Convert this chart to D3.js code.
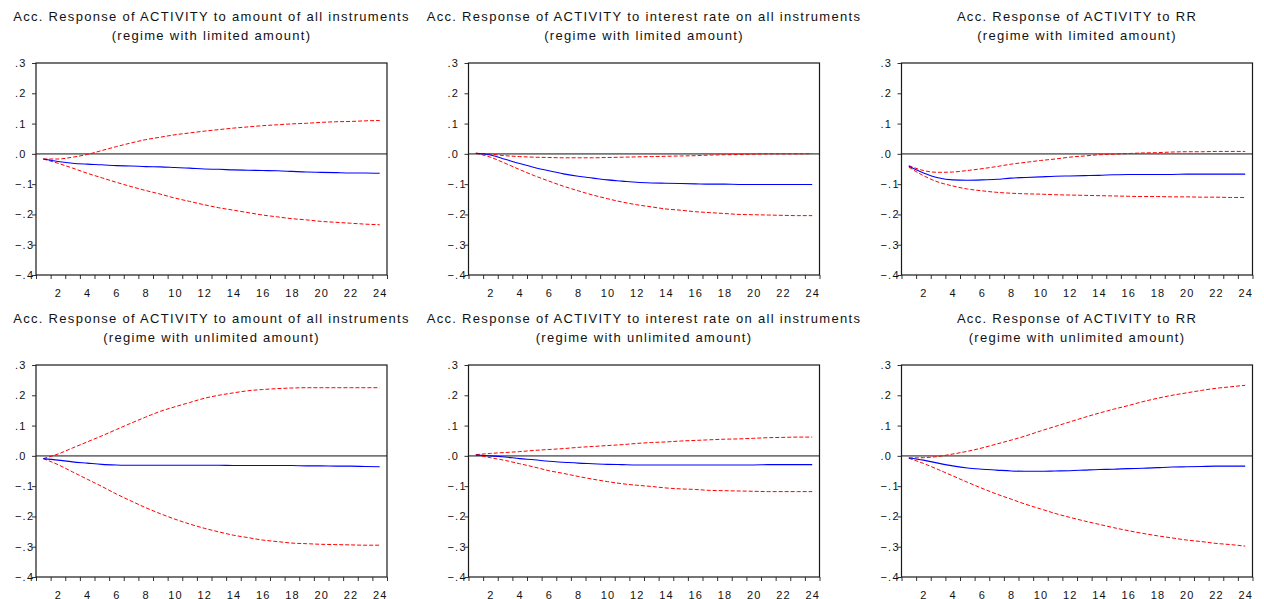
<!DOCTYPE html>
<html>
<head>
<meta charset="utf-8">
<script src="https://cdn.jsdelivr.net/npm/d3@7"></script>
<style>
  html, body { margin: 0; padding: 0; background: #fff; }
  svg { display: block; }
  text { font-family: "Liberation Sans", Arial, sans-serif; fill: #111; }
</style>
</head>
<body>
<svg id="chart" width="1264" height="599"></svg>
<script>
// Forecast horizon (periods) and axis tick values
const periods = d3.range(1, 25);
const xTickLabels = [2, 4, 6, 8, 10, 12, 14, 16, 18, 20, 22, 24];
const yTickValues = [0.3, 0.2, 0.1, 0.0, -0.1, -0.2, -0.3, -0.4];

// Titles
const shockNames = [
  "Acc. Response of ACTIVITY to amount of all instruments",
  "Acc. Response of ACTIVITY to interest rate on all instruments",
  "Acc. Response of ACTIVITY to RR"
];
const regimeNames = ["(regime with limited amount)", "(regime with unlimited amount)"];

// Regime with limited amount: response to amount of all instruments
const limAmountUpper = [-0.017, -0.017, -0.011, -0.002, 0.011, 0.024, 0.036, 0.047, 0.055, 0.063, 0.069, 0.075,
                        0.080, 0.085, 0.089, 0.093, 0.096, 0.099, 0.101, 0.104, 0.106, 0.107, 0.109, 0.110];
const limAmountMean  = [-0.017, -0.025, -0.031, -0.034, -0.036, -0.039, -0.040, -0.042, -0.043, -0.045, -0.047, -0.050,
                        -0.051, -0.053, -0.054, -0.055, -0.056, -0.058, -0.060, -0.061, -0.062, -0.063, -0.063, -0.064];
const limAmountLower = [-0.017, -0.031, -0.047, -0.064, -0.079, -0.094, -0.108, -0.121, -0.133, -0.146, -0.157, -0.168,
                        -0.178, -0.186, -0.194, -0.202, -0.208, -0.214, -0.218, -0.223, -0.226, -0.229, -0.232, -0.234];

// Regime with limited amount: response to interest rate on all instruments
const limRateUpper = [0.002, -0.001, -0.006, -0.009, -0.011, -0.012, -0.013, -0.013, -0.013, -0.012, -0.011, -0.010,
                      -0.009, -0.008, -0.007, -0.006, -0.004, -0.003, -0.002, -0.001, 0.000, 0.000, 0.000, 0.001];
const limRateMean  = [0.002, -0.004, -0.018, -0.032, -0.045, -0.056, -0.066, -0.074, -0.080, -0.086, -0.090, -0.094,
                      -0.096, -0.097, -0.098, -0.099, -0.100, -0.100, -0.101, -0.101, -0.101, -0.101, -0.101, -0.101];
const limRateLower = [0.002, -0.011, -0.031, -0.052, -0.072, -0.090, -0.107, -0.122, -0.136, -0.148, -0.159, -0.168,
                      -0.175, -0.182, -0.186, -0.191, -0.194, -0.197, -0.200, -0.201, -0.202, -0.203, -0.204, -0.204];

// Regime with limited amount: response to RR
const limRRUpper = [-0.039, -0.055, -0.061, -0.060, -0.055, -0.049, -0.042, -0.034, -0.028, -0.022, -0.017, -0.011,
                    -0.007, -0.003, -0.001, 0.001, 0.003, 0.004, 0.006, 0.007, 0.007, 0.008, 0.008, 0.008];
const limRRMean  = [-0.041, -0.063, -0.079, -0.086, -0.087, -0.086, -0.084, -0.080, -0.078, -0.076, -0.074, -0.073,
                    -0.072, -0.071, -0.069, -0.068, -0.068, -0.068, -0.068, -0.067, -0.067, -0.067, -0.067, -0.067];
const limRRLower = [-0.044, -0.072, -0.093, -0.106, -0.116, -0.122, -0.127, -0.130, -0.132, -0.133, -0.135, -0.136,
                    -0.137, -0.138, -0.139, -0.140, -0.141, -0.141, -0.142, -0.142, -0.143, -0.143, -0.144, -0.144];

// Regime with unlimited amount: response to amount of all instruments
const unlAmountUpper = [-0.009, 0.006, 0.026, 0.046, 0.066, 0.087, 0.108, 0.128, 0.147, 0.162, 0.176, 0.190,
                        0.200, 0.208, 0.215, 0.219, 0.222, 0.224, 0.225, 0.225, 0.225, 0.225, 0.225, 0.225];
const unlAmountMean  = [-0.009, -0.014, -0.020, -0.024, -0.028, -0.030, -0.031, -0.031, -0.031, -0.031, -0.031, -0.031,
                        -0.031, -0.032, -0.032, -0.032, -0.032, -0.032, -0.033, -0.033, -0.034, -0.034, -0.035, -0.036];
const unlAmountLower = [-0.009, -0.029, -0.053, -0.077, -0.101, -0.126, -0.149, -0.171, -0.191, -0.209, -0.225, -0.239,
                        -0.251, -0.262, -0.270, -0.278, -0.283, -0.288, -0.290, -0.292, -0.293, -0.294, -0.295, -0.295];

// Regime with unlimited amount: response to interest rate on all instruments
const unlRateUpper = [0.004, 0.008, 0.011, 0.014, 0.018, 0.021, 0.024, 0.028, 0.031, 0.034, 0.037, 0.041,
                      0.044, 0.046, 0.049, 0.051, 0.053, 0.055, 0.056, 0.058, 0.060, 0.061, 0.062, 0.062];
const unlRateMean  = [0.003, 0.000, -0.004, -0.009, -0.013, -0.018, -0.021, -0.024, -0.026, -0.028, -0.029, -0.030,
                      -0.030, -0.030, -0.030, -0.030, -0.030, -0.030, -0.030, -0.030, -0.029, -0.029, -0.029, -0.029];
const unlRateLower = [0.003, -0.006, -0.015, -0.026, -0.037, -0.049, -0.058, -0.068, -0.077, -0.085, -0.092, -0.097,
                      -0.101, -0.106, -0.109, -0.111, -0.114, -0.115, -0.116, -0.117, -0.118, -0.118, -0.118, -0.118];

// Regime with unlimited amount: response to RR
const unlRRUpper = [-0.007, -0.006, -0.002, 0.006, 0.015, 0.026, 0.039, 0.052, 0.066, 0.082, 0.097, 0.112,
                    0.127, 0.141, 0.154, 0.166, 0.179, 0.190, 0.200, 0.208, 0.216, 0.223, 0.228, 0.233];
const unlRRMean  = [-0.007, -0.014, -0.024, -0.033, -0.040, -0.044, -0.047, -0.050, -0.051, -0.051, -0.050, -0.049,
                    -0.047, -0.045, -0.044, -0.042, -0.041, -0.039, -0.037, -0.036, -0.035, -0.034, -0.034, -0.034];
const unlRRLower = [-0.008, -0.025, -0.045, -0.066, -0.087, -0.107, -0.126, -0.143, -0.160, -0.175, -0.190, -0.203,
                    -0.215, -0.226, -0.237, -0.247, -0.256, -0.264, -0.271, -0.278, -0.283, -0.289, -0.293, -0.298];

// Panel grid (row = regime, col = shock)
const panels = [
  { row: 0, col: 0, upper: limAmountUpper, mean: limAmountMean, lower: limAmountLower },
  { row: 0, col: 1, upper: limRateUpper,   mean: limRateMean,   lower: limRateLower },
  { row: 0, col: 2, upper: limRRUpper,     mean: limRRMean,     lower: limRRLower },
  { row: 1, col: 0, upper: unlAmountUpper, mean: unlAmountMean, lower: unlAmountLower },
  { row: 1, col: 1, upper: unlRateUpper,   mean: unlRateMean,   lower: unlRateLower },
  { row: 1, col: 2, upper: unlRRUpper,     mean: unlRRMean,     lower: unlRRLower }
];

// Layout
const colLeft = [36, 468.5, 901.5];
const rowTop = [63, 365];
const plotW = 351;
const plotH = 212;

const svg = d3.select("#chart");

panels.forEach(p => {
  const left = colLeft[p.col];
  const top = rowTop[p.row];
  const g = svg.append("g").attr("transform", `translate(${left},${top})`);

  const x = d3.scaleLinear().domain([0.5, 24.5]).range([0, plotW]);
  const y = d3.scaleLinear().domain([-0.4, 0.3]).range([plotH, 0]);

  // Title (two lines)
  const cx = plotW / 2;
  g.append("text")
    .attr("x", cx).attr("y", 21 - 63)
    .attr("text-anchor", "middle")
    .style("font-size", "13px").style("letter-spacing", "1.3px")
    .text(shockNames[p.col]);
  g.append("text")
    .attr("x", cx).attr("y", 40 - 63)
    .attr("text-anchor", "middle")
    .style("font-size", "13px").style("letter-spacing", "1.3px")
    .text(regimeNames[p.row]);

  // Zero reference line
  g.append("line")
    .attr("x1", 0).attr("x2", plotW)
    .attr("y1", y(0)).attr("y2", y(0))
    .attr("stroke", "#767676").attr("stroke-width", 1.6);

  // Series
  const line = d3.line()
    .x((d, i) => x(periods[i]))
    .y(d => y(d))
    .curve(d3.curveMonotoneX);

  [p.upper, p.lower].forEach(s => {
    g.append("path").datum(s)
      .attr("d", line)
      .attr("fill", "none")
      .attr("stroke", "#ff0000")
      .attr("stroke-width", 1)
      .attr("stroke-dasharray", "4,2");
  });
  g.append("path").datum(p.mean)
    .attr("d", line)
    .attr("fill", "none")
    .attr("stroke", "#0000ff")
    .attr("stroke-width", 1.1);

  // Y axis: ticks and left-aligned labels
  const yAxis = d3.axisLeft(y).tickValues(yTickValues).tickSize(4).tickFormat("");
  const ya = g.append("g").call(yAxis);
  ya.select(".domain").remove();
  ya.selectAll(".tick line").attr("stroke", "#333");

  g.selectAll("text.ylab").data(yTickValues).enter().append("text")
    .attr("class", "ylab")
    .attr("x", -21)
    .attr("y", d => y(d))
    .attr("dy", "0.36em")
    .style("font-size", "11px").style("letter-spacing", "1.2px")
    .text(d => d3.format(".1f")(d).replace("0.", "."));

  // X axis: ticks at period boundaries, labels on even periods
  const xAxis = d3.axisBottom(x).tickValues(d3.range(0.5, 25, 1)).tickSize(4).tickFormat("");
  const xa = g.append("g").attr("transform", `translate(0,${plotH})`).call(xAxis);
  xa.select(".domain").remove();
  xa.selectAll(".tick line").attr("stroke", "#333");

  g.selectAll("text.xlab").data(xTickLabels).enter().append("text")
    .attr("class", "xlab")
    .attr("x", d => x(d) + 0.6)
    .attr("y", plotH + 22)
    .attr("text-anchor", "middle")
    .style("font-size", "11px").style("letter-spacing", "1.2px")
    .text(d => d);

  // Frame
  g.append("rect")
    .attr("x", 0).attr("y", 0)
    .attr("width", plotW).attr("height", plotH)
    .attr("fill", "none")
    .attr("stroke", "#1a1a1a")
    .attr("stroke-width", 1.2);
});
</script>
</body>
</html>
